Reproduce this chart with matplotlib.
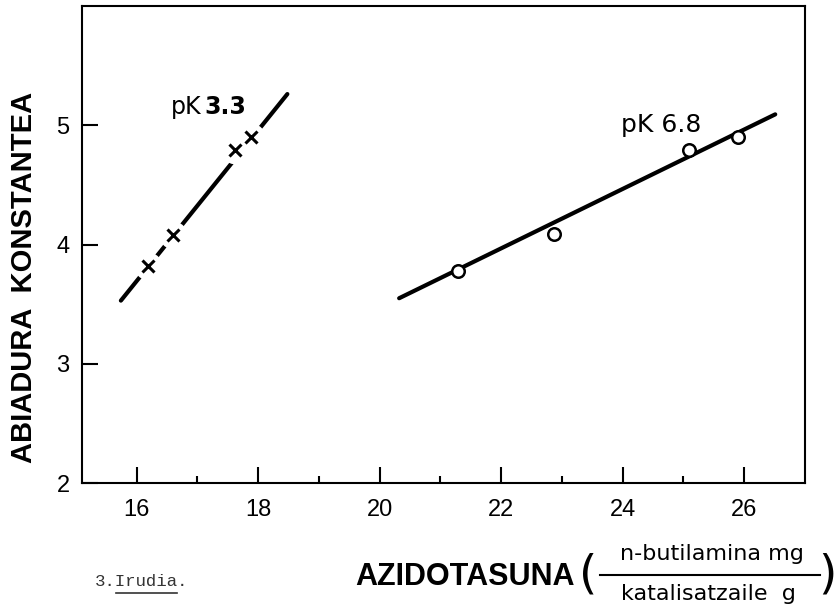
import numpy as np
import matplotlib
matplotlib.use("Agg")
import matplotlib.pyplot as plt
from matplotlib.lines import Line2D

# data
pk33_x = [16.19, 16.60, 17.62, 17.88]
pk33_y = [3.82, 4.08, 4.79, 4.90]
pk33_fit_x = [15.74, 18.48]
pk33_fit_y = [3.53, 5.26]

pk68_x = [21.29, 22.87, 25.09, 25.89]
pk68_y = [3.78, 4.09, 4.79, 4.90]
pk68_fit_x = [20.32, 26.51]
pk68_fit_y = [3.55, 5.09]

x_major = [16, 18, 20, 22, 24, 26]
x_minor = [17, 19, 21, 23, 25]
y_ticks = [2, 3, 4, 5]

W, H = 838, 606
fig = plt.figure(figsize=(W / 100, H / 100), dpi=100)
ax = fig.add_axes([82 / W, 1 - 483.3 / H, (805 - 82) / W, (483.3 - 5.7) / H])

sans = ["Liberation Sans", "DejaVu Sans"]

# pK 3.3 line, broken around the crosses
ax.plot(pk33_fit_x, pk33_fit_y, color="black", lw=3.0, solid_capstyle="round", zorder=2)
ax.plot(pk33_x, pk33_y, "o", ms=20, mfc="white", mec="none", zorder=3)
ax.plot(pk33_x, pk33_y, "x", ms=9, mew=2.2, color="black", zorder=4)

# pK 6.8 line with open circles
ax.plot(pk68_fit_x, pk68_fit_y, color="black", lw=3.0, solid_capstyle="round", zorder=2)
ax.plot(pk68_x, pk68_y, "o", ms=9, mfc="white", mec="black", mew=1.8, zorder=4)

ax.text(16.56, 5.09, "pK", fontsize=17, family=["DejaVu Sans"], va="baseline")
ax.text(17.12, 5.09, "3.3", fontsize=17, family=["DejaVu Sans"], fontweight="bold", va="baseline")
ax.text(23.97, 4.94, "pK 6.8", fontsize=18, family=["DejaVu Sans"], va="baseline")

ax.set_xlim(15.1, 27.0)
ax.set_ylim(2.0, 6.0)
ax.set_xticks(x_major)
ax.set_xticks(x_minor, minor=True)
ax.set_yticks(y_ticks)
ax.set_xticklabels([str(v) for v in x_major], family=sans, fontsize=17)
ax.set_yticklabels([str(v) for v in y_ticks], family=sans, fontsize=17)
ax.tick_params(axis="both", which="major", direction="in", length=11.5, width=1.5, pad=9)
ax.tick_params(axis="x", which="minor", direction="in", length=5, width=1.5)
ax.tick_params(axis="x", which="major", pad=11)

for s in ax.spines.values():
    s.set_linewidth(1.5)

ax.set_ylabel("ABIADURA  KONSTANTEA", family=sans, fontweight="bold", fontsize=21)
ax.yaxis.set_label_coords(-0.061, 0.43)

# x label with fraction
fig.text(355 / W, 1 - 577 / H, "AZIDOTASUNA", family=sans, fontweight="bold", fontsize=22,
         ha="left", va="center")
fig.text(588 / W, 1 - 575 / H, "(", family=["DejaVu Sans"], fontsize=34, ha="center", va="center")
fig.text(827 / W, 1 - 575 / H, ")", family=["DejaVu Sans"], fontsize=34, ha="center", va="center")
fig.text(712 / W, 1 - 554 / H, "n-butilamina mg", family=["DejaVu Sans"], fontsize=16,
         ha="center", va="center")
fig.text(708 / W, 1 - 594 / H, "katalisatzaile  g", family=["DejaVu Sans"], fontsize=16,
         ha="center", va="center")
fig.add_artist(Line2D([600 / W, 820 / W], [1 - 575 / H, 1 - 575 / H], color="black", lw=1.5))

# caption
fig.text(95 / W, 1 - 582 / H, "3.Irudia.", family=["Liberation Mono", "DejaVu Sans Mono"],
         fontsize=12.5, ha="left", va="center", color="#333333")
fig.add_artist(Line2D([116 / W, 177 / W], [1 - 593 / H, 1 - 593 / H], color="#333333", lw=1.2))

fig.savefig("out.png", dpi=100)
